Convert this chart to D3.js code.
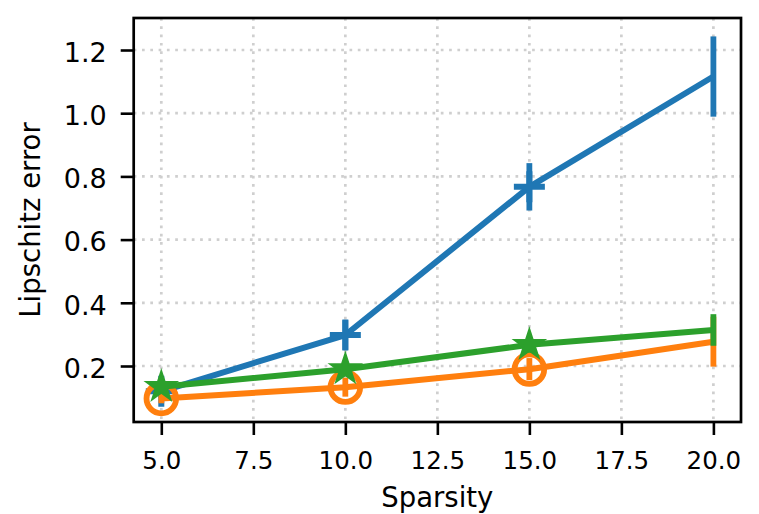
<!DOCTYPE html>
<html>
<head>
<meta charset="utf-8">
<script src="https://cdn.jsdelivr.net/npm/d3@7"></script>
<style>
  html, body { margin: 0; padding: 0; background: #fff; }
  svg { display: block; font-family: "DejaVu Sans", sans-serif; }
</style>
</head>
<body>
<svg id="chart" width="759" height="514"></svg>
<script>
// ---- data ----
const sparsity = [5, 10, 15, 20];
const markerShown = [true, true, true, false];
const xTicks = [5, 7.5, 10, 12.5, 15, 17.5, 20];
const yTicks = [0.2, 0.4, 0.6, 0.8, 1.0, 1.2];
const blueMean = [0.12, 0.298, 0.767, 1.116];
const blueErr  = [0.02, 0.047, 0.075, 0.127];
const orangeMean = [0.097, 0.133, 0.19, 0.277];
const orangeErr  = [0.015, 0.03, 0.035, 0.079];
const greenMean = [0.134, 0.19, 0.267, 0.314];
const greenErr  = [0.015, 0.02, 0.025, 0.05];
const xLabel = "Sparsity";
const yLabel = "Lipschitz error";

const series = [
  {name: "blue", color: "#1f77b4", mean: blueMean, err: blueErr, marker: "plus"},
  {name: "orange", color: "#ff7f0e", mean: orangeMean, err: orangeErr, marker: "circle"},
  {name: "green", color: "#2ca02c", mean: greenMean, err: greenErr, marker: "star"}
];

// ---- layout ----
const L = 133.7, R = 741, T = 18, B = 422;
const svg = d3.select("#chart");

const x = d3.scaleLinear().domain([4.25, 20.75]).range([L, R]);
const y = d3.scaleLinear().domain([0.2 - (422 - 366) / 316, 0.2 + (366 - 18) / 316]).range([B, T]);

// grid
const grid = svg.append("g");
grid.selectAll("line.gx").data(xTicks).join("line")
  .attr("x1", d => x(d)).attr("x2", d => x(d)).attr("y1", T).attr("y2", B)
  .attr("stroke", "#cfcfcf").attr("stroke-width", 2.7).attr("stroke-dasharray", "2.7,5.6");
grid.selectAll("line.gy").data(yTicks).join("line")
  .attr("y1", d => y(d)).attr("y2", d => y(d)).attr("x1", L).attr("x2", R)
  .attr("stroke", "#cfcfcf").attr("stroke-width", 2.7).attr("stroke-dasharray", "2.7,5.6");

// axes
const xAxis = d3.axisBottom(x).tickValues(xTicks).tickFormat(d3.format(".1f")).tickSize(13).tickPadding(5);
const gx = svg.append("g").attr("transform", `translate(0,${B})`).call(xAxis);
gx.select(".domain").remove();
gx.selectAll(".tick line").attr("stroke", "#000").attr("stroke-width", 2.6);
gx.selectAll(".tick text").attr("fill", "#000").attr("font-size", "24.5px")
  .attr("font-family", "DejaVu Sans").attr("y", 47).attr("dy", null);

const yAxis = d3.axisLeft(y).tickValues(yTicks).tickFormat(d3.format(".1f")).tickSize(13).tickPadding(9);
const gy = svg.append("g").attr("transform", `translate(${L},0)`).call(yAxis);
gy.select(".domain").remove();
gy.selectAll(".tick line").attr("stroke", "#000").attr("stroke-width", 2.6);
gy.selectAll(".tick text").attr("fill", "#000").attr("font-size", "27px")
  .attr("font-family", "DejaVu Sans").attr("x", -27).attr("dy", "0.42em");

// series
const lineGen = d3.line().x((d, i) => x(sparsity[i])).y(d => y(d));
const plot = svg.append("g");

function starPath(cx, cy, Ro) {
  const ri = Ro * 0.381966;
  const pts = [];
  for (let k = 0; k < 10; k++) {
    const a = -Math.PI / 2 + k * Math.PI / 5;
    const r = k % 2 === 0 ? Ro : ri;
    pts.push([cx + r * Math.cos(a), cy + r * Math.sin(a)]);
  }
  return "M" + pts.map(p => p.join(",")).join("L") + "Z";
}

const half = 15.5;
series.forEach(s => {
  const g = plot.append("g");
  g.append("path").datum(s.mean).attr("d", lineGen)
    .attr("fill", "none").attr("stroke", s.color).attr("stroke-width", 6)
    .attr("stroke-linejoin", "round");
  g.selectAll("line.err").data(s.mean).join("line")
    .attr("x1", (d, i) => x(sparsity[i])).attr("x2", (d, i) => x(sparsity[i]))
    .attr("y1", (d, i) => y(d - s.err[i])).attr("y2", (d, i) => y(d + s.err[i]))
    .attr("stroke", s.color).attr("stroke-width", 5.8);
  s.mean.forEach((d, i) => {
    if (!markerShown[i]) return;
    const cx = x(sparsity[i]), cy = y(d);
    if (s.marker === "plus") {
      g.append("path").attr("d", `M${cx - half},${cy}H${cx + half}M${cx},${cy - half}V${cy + half}`)
        .attr("stroke", s.color).attr("stroke-width", 6).attr("fill", "none");
    } else if (s.marker === "circle") {
      g.append("circle").attr("cx", cx).attr("cy", cy).attr("r", 14.8)
        .attr("fill", "none").attr("stroke", s.color).attr("stroke-width", 5.8);
    } else {
      g.append("path").attr("d", starPath(cx, cy, half))
        .attr("fill", s.color).attr("stroke", s.color).attr("stroke-width", 2)
        .attr("stroke-linejoin", "miter");
    }
  });
});

// frame
svg.append("rect").attr("x", L).attr("y", T).attr("width", R - L).attr("height", B - T)
  .attr("fill", "none").attr("stroke", "#000").attr("stroke-width", 2.7);

// labels
svg.append("text").attr("x", (L + R) / 2).attr("y", 507).attr("text-anchor", "middle")
  .attr("font-size", "27.5px").attr("fill", "#000").text(xLabel);
svg.append("text").attr("transform", `translate(40,${(T + B) / 2}) rotate(-90)`)
  .attr("text-anchor", "middle").attr("font-size", "27.5px").attr("fill", "#000").text(yLabel);
</script>
</body>
</html>
